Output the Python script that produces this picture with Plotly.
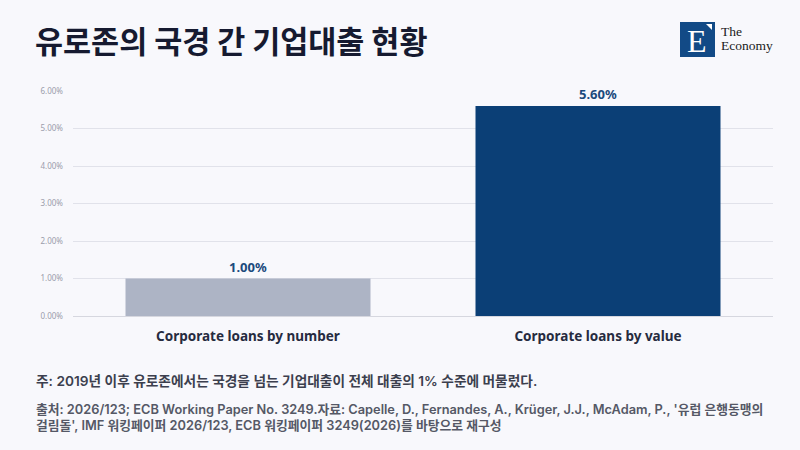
"""Cross-border corporate lending in the eurozone - bar chart"""

import plotly.graph_objects as go

categories = ["Corporate loans by number", "Corporate loans by value"]
shares = [0.010, 0.056]
bar_colors = ["#adb4c5", "#0b3f76"]

title_text = "유로존의 국경 간 기업대출 현황"
note_text = "주: 2019년 이후 유로존에서는 국경을 넘는 기업대출이 전체 대출의 1% 수준에 머물렀다."
source_lines = [
    "출처: 2026/123; ECB Working Paper No. 3249.자료: Capelle, D., Fernandes, A., Krüger, J.J., "
    "McAdam, P., '유럽 은행동맹의",
    "걸림돌', IMF 워킹페이퍼 2026/123, ECB 워킹페이퍼 3249(2026)를 바탕으로 재구성",
]

BG = "#f8f8fc"
KR_FONT = "Noto Sans CJK KR"
TEXT_FONT = "Inter, 'Noto Sans CJK KR'"

# plot area in pixels (figure is 800x450)
L, T, R, B = 73, 91, 773, 316


def px_x(x):
    return (x - L) / (R - L)


def px_y(y):
    return (B - y) / (B - T)


fig = go.Figure()

fig.add_trace(go.Bar(
    x=categories,
    y=shares,
    marker=dict(color=bar_colors, line=dict(width=0)),
    text=[f"{v:.2%}" for v in shares],
    textposition="outside",
    textfont=dict(family="Noto Sans", size=13, color="#1b4a7c", weight="bold"),
    cliponaxis=False,
    width=0.7,
    hoverinfo="skip",
))

fig.update_layout(
    width=800,
    height=450,
    paper_bgcolor=BG,
    plot_bgcolor=BG,
    margin=dict(l=L, r=800 - R, t=T, b=450 - B),
    showlegend=False,
    font=dict(family="Noto Sans"),
    xaxis=dict(
        showgrid=False,
        showline=False,
        ticks="",
        tickfont=dict(family="Noto Sans", size=13.5, color="#262b40", weight="bold"),
        ticklabelstandoff=10,
    ),
    yaxis=dict(
        range=[0, 0.06],
        dtick=0.01,
        tickformat=".2%",
        showgrid=True,
        gridcolor="#e1e2ea",
        gridwidth=1,
        zeroline=True,
        zerolinecolor="#d6d7df",
        zerolinewidth=1,
        tickfont=dict(family="Noto Sans", size=8, color="#9a9cab"),
        ticklabelstandoff=9,
    ),
)

# title
fig.add_annotation(
    xref="paper", yref="paper", x=px_x(33), y=px_y(40),
    xanchor="left", yanchor="middle", showarrow=False,
    text=f"<b>{title_text}</b>",
    font=dict(family=KR_FONT, size=30.5, color="#161a30"),
)

# logo block
fig.add_shape(
    type="rect", xref="paper", yref="paper",
    x0=px_x(680), x1=px_x(715), y0=px_y(57), y1=px_y(22),
    fillcolor="#124a86", line=dict(width=0), layer="above",
)
fig.add_shape(
    type="path", xref="paper", yref="paper",
    path=(f"M {px_x(706)},{px_y(24)} L {px_x(712)},{px_y(24)} "
          f"L {px_x(712)},{px_y(30)} Z"),
    fillcolor="white", line=dict(width=0), layer="above",
)
fig.add_annotation(
    xref="paper", yref="paper", x=px_x(697), y=px_y(41),
    xanchor="center", yanchor="middle", showarrow=False,
    text="E", font=dict(family="Liberation Serif", size=32, color="white"),
)
for word, y in [("The", 31), ("Economy", 45)]:
    fig.add_annotation(
        xref="paper", yref="paper", x=px_x(719), y=px_y(y),
        xanchor="left", yanchor="middle", showarrow=False,
        text=word,
        font=dict(family="Liberation Serif", size=13.5, color="#1a1a1a"),
    )

# note and source
fig.add_annotation(
    xref="paper", yref="paper", x=px_x(34), y=px_y(381),
    xanchor="left", yanchor="middle", showarrow=False,
    text=note_text,
    font=dict(family=TEXT_FONT, size=13.7, color="#3c3f4e", weight=600),
)
for line, y in zip(source_lines, [409.5, 425]):
    fig.add_annotation(
        xref="paper", yref="paper", x=px_x(34), y=px_y(y),
        xanchor="left", yanchor="middle", showarrow=False, align="left",
        text=line,
        font=dict(family=TEXT_FONT, size=12.8, color="#555866", weight=600),
    )

fig.write_html("out.html", config={"displayModeBar": False},
               post_script="document.body.style.margin='0';")
